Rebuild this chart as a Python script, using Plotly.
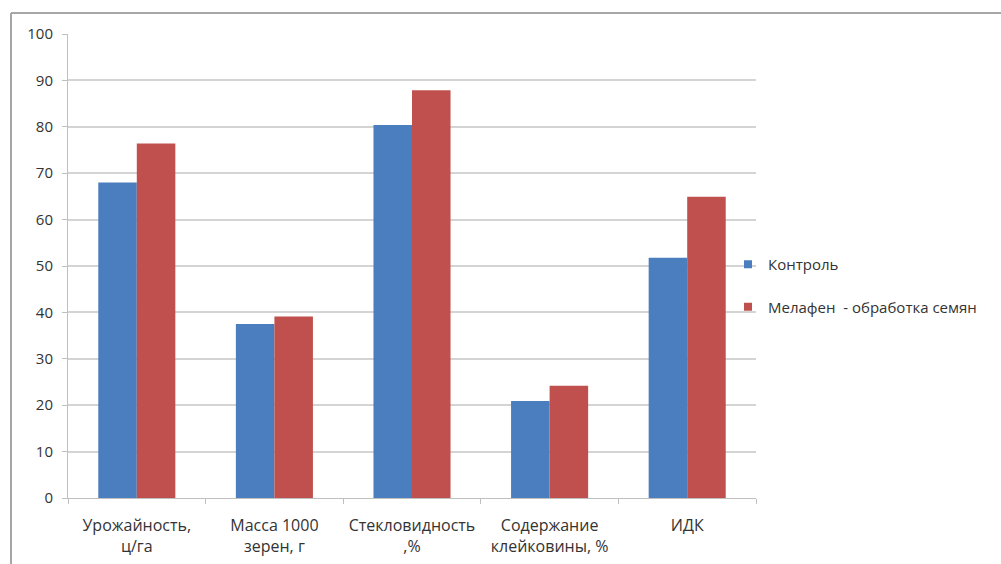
import plotly.graph_objects as go

categories = ["Урожайность,<br>ц/га", "Масса 1000<br>зерен, г", "Стекловидность<br>,%",
              "Содержание<br>клейковины, %", "ИДК"]
control = [68.0, 37.5, 80.4, 20.9, 51.8]
melafen = [76.4, 39.1, 87.9, 24.2, 64.9]
series_names = ["Контроль", "Мелафен  - обработка семян"]
y_ticks = [0, 10, 20, 30, 40, 50, 60, 70, 80, 90, 100]
colors = ["#4A7EBE", "#C0504D"]

W, H = 1001, 564
L, R, T, B = 68, 245, 34, 66
pw, ph = W - L - R, H - T - B

def px_x(p):
    return (p - L) / pw

def px_y(p):
    return (H - B - p) / ph

font = "Open Sans, Liberation Sans, sans-serif"
txt = "#333333"

fig = go.Figure()
for vals, name, col in zip([control, melafen], series_names, colors):
    fig.add_trace(go.Bar(x=categories, y=vals, name=name, showlegend=False,
                         marker=dict(color=col, line=dict(width=0))))
# legend entries with small square markers
for i, (name, col) in enumerate(zip(series_names, colors)):
    fig.add_trace(go.Scatter(x=[None], y=[None], mode="markers", name=name,
                             legendgroup=f"g{i}",
                             marker=dict(symbol="square", size=8, color=col)))

fig.update_layout(
    width=W, height=H,
    margin=dict(l=L, r=R, t=T, b=B, pad=0, autoexpand=False),
    paper_bgcolor="white", plot_bgcolor="white",
    barmode="group", bargap=0.44, bargroupgap=0,
    font=dict(family=font, size=15, color=txt),
    legend=dict(x=px_x(728), y=px_y(248), xanchor="left", yanchor="top",
                font=dict(family=font, size=15, color=txt),
                tracegroupgap=20, traceorder="grouped",
                itemwidth=30, bgcolor="rgba(0,0,0,0)"),
    showlegend=True,
)
fig.update_xaxes(type="category", showline=True, linecolor="#BFBFBF", linewidth=1,
                 ticks="outside", tickson="boundaries", ticklen=5, tickcolor="#BFBFBF",
                 showgrid=False, tickfont=dict(family=font, size=16, color=txt),
                 ticklabelstandoff=13, automargin=False)
fig.update_yaxes(range=[0, 100], tickvals=y_ticks, showline=True, linecolor="#BFBFBF",
                 linewidth=1, ticks="outside", ticklen=5, tickcolor="#BFBFBF",
                 showgrid=True, gridcolor="#D4D4D4", gridwidth=1.5, zeroline=False,
                 tickfont=dict(family=font, size=15, color=txt), ticklabelstandoff=6,
                 automargin=False)

# outer frame (top and left edges visible)
fig.add_shape(type="line", xref="paper", yref="paper",
              x0=px_x(11), x1=px_x(1001), y0=px_y(13), y1=px_y(13),
              line=dict(color="#A6A6A6", width=2))
fig.add_shape(type="line", xref="paper", yref="paper",
              x0=px_x(11), x1=px_x(11), y0=px_y(13), y1=px_y(564),
              line=dict(color="#A6A6A6", width=2))

fig.write_html("out.html", config={"displayModeBar": False},
               post_script="document.body.style.margin='0';document.body.style.overflow='hidden';")
